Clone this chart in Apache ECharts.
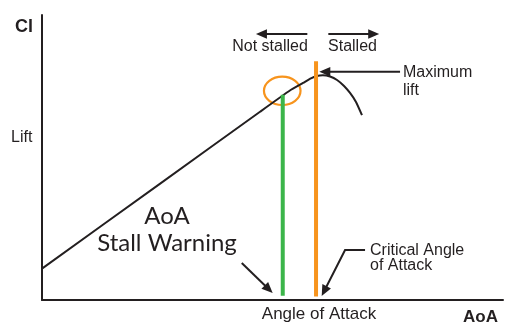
<!DOCTYPE html>
<html>
<head>
<meta charset="utf-8">
<script src="https://cdn.jsdelivr.net/npm/echarts@6/dist/echarts.min.js"></script>
<style>html,body{margin:0;padding:0;background:#fff}#c{width:505px;height:322px}</style>
</head>
<body>
<div id="c"></div>
<script>
// Lift curve: angle of attack (deg) vs lift coefficient Cl
var aoa = [0, 6.9, 12.77, 14.52, 15.29, 15.75, 16.1, 16.45, 16.87, 17.28, 17.69, 18.04, 18.39, 18.74];
var cl  = [0.22, 0.815, 1.321, 1.47, 1.523, 1.556, 1.572, 1.577, 1.568, 1.544, 1.502, 1.453, 1.39, 1.298];
// Vertical markers
var stallWarningAoA = 14.1, stallWarningCl = [0.03, 1.44];
var criticalAoA = 16.05, criticalCl = [0.025, 1.675];
// Highlight ellipse centre
var ellipseCenter = [14.07, 1.468];
// Annotation arrows (data coords, last point is the tip)
var arrowNotStalled = [[15.54, 1.867], [12.53, 1.867]];
var arrowStalled = [[16.77, 1.867], [19.75, 1.867]];
var arrowMaxLift = [[20.97, 1.602], [16.24, 1.602]];
var arrowCritical = [[18.92, 0.351], [17.75, 0.351], [16.38, 0.028]];
var arrowStallWarning = [[11.70, 0.26], [13.51, 0.049]];
var arrows = [arrowNotStalled, arrowStalled, arrowMaxLift, arrowCritical, arrowStallWarning];

var ink = '#231f20';
var chart = echarts.init(document.getElementById('c'));
var helv = '"Liberation Sans", Arial, sans-serif';

function txt(text, x, y, size, align, weight, family) {
  return {type: 'text', x: x, y: y, style: {text: text, fill: ink, font: (weight || 'normal') + ' ' + size + 'px ' + (family || helv), textAlign: align || 'left', textVerticalAlign: 'middle'}};
}

chart.setOption({
  animation: false,
  grid: {left: 42, right: 2, top: 15, bottom: 22},
  xAxis: {type: 'value', min: 0, max: 27, axisLine: {onZero: false, lineStyle: {color: ink, width: 2}}, axisTick: {show: false}, axisLabel: {show: false}, splitLine: {show: false}},
  yAxis: {type: 'value', min: 0, max: 2, axisLine: {show: true, onZero: false, lineStyle: {color: ink, width: 2}}, axisTick: {show: false}, axisLabel: {show: false}, splitLine: {show: false}},
  series: [
    {type: 'line', data: aoa.map(function (a, i) { return [a, cl[i]]; }), smooth: 0.15, symbol: 'none', lineStyle: {color: ink, width: 2}},
    {type: 'line', data: [[stallWarningAoA, stallWarningCl[0]], [stallWarningAoA, stallWarningCl[1]]], symbol: 'none', lineStyle: {color: '#3cb54a', width: 4}},
    {type: 'line', data: [[criticalAoA, criticalCl[0]], [criticalAoA, criticalCl[1]]], symbol: 'none', lineStyle: {color: '#f7941d', width: 4}},
    {type: 'custom', data: [ellipseCenter], renderItem: function (params, api) {
      var p = api.coord([api.value(0), api.value(1)]);
      return {type: 'ellipse', shape: {cx: p[0], cy: p[1], rx: 18.3, ry: 14.2}, style: {fill: 'none', stroke: '#f7941d', lineWidth: 2.2}};
    }},
    {type: 'custom', data: arrows.map(function (a, i) { return [i]; }), renderItem: function (params, api) {
      var pts = arrows[params.dataIndex].map(function (p) { return api.coord(p); });
      var tip = pts[pts.length - 1], prev = pts[pts.length - 2];
      var dx = tip[0] - prev[0], dy = tip[1] - prev[1], L = Math.sqrt(dx * dx + dy * dy);
      var ux = dx / L, uy = dy / L, hl = 11, hw = 4.8;
      var bx = tip[0] - ux * hl, by = tip[1] - uy * hl;
      var linePts = pts.slice(0, -1).concat([[bx + ux * 2, by + uy * 2]]);
      return {type: 'group', children: [
        {type: 'polyline', shape: {points: linePts}, style: {stroke: ink, lineWidth: 2, fill: null}},
        {type: 'polygon', shape: {points: [tip, [bx - uy * hw, by + ux * hw], [bx + uy * hw, by - ux * hw]]}, style: {fill: ink}}
      ]};
    }}
  ],
  graphic: [
    txt('Cl', 15, 27.5, 18, 'left', 'bold'),
    txt('Lift', 11, 138, 16),
    txt('Not stalled', 270, 46.5, 16, 'center'),
    txt('Stalled', 352.5, 46.5, 16, 'center'),
    txt('Maximum', 403, 73, 16),
    txt('lift', 403, 91, 16),
    txt('Critical Angle', 370, 251, 16),
    txt('of Attack', 370, 266, 16),
    txt('AoA', 167, 216.5, 24, 'center', 'normal', 'Lato, "Open Sans", sans-serif'),
    txt('Stall Warning', 167, 243, 24, 'center', 'normal', 'Lato, "Open Sans", sans-serif'),
    txt('Angle of Attack', 319, 314.5, 17, 'center'),
    txt('AoA', 480.5, 317.5, 17, 'center', 'bold')
  ]
});
</script>
</body>
</html>
